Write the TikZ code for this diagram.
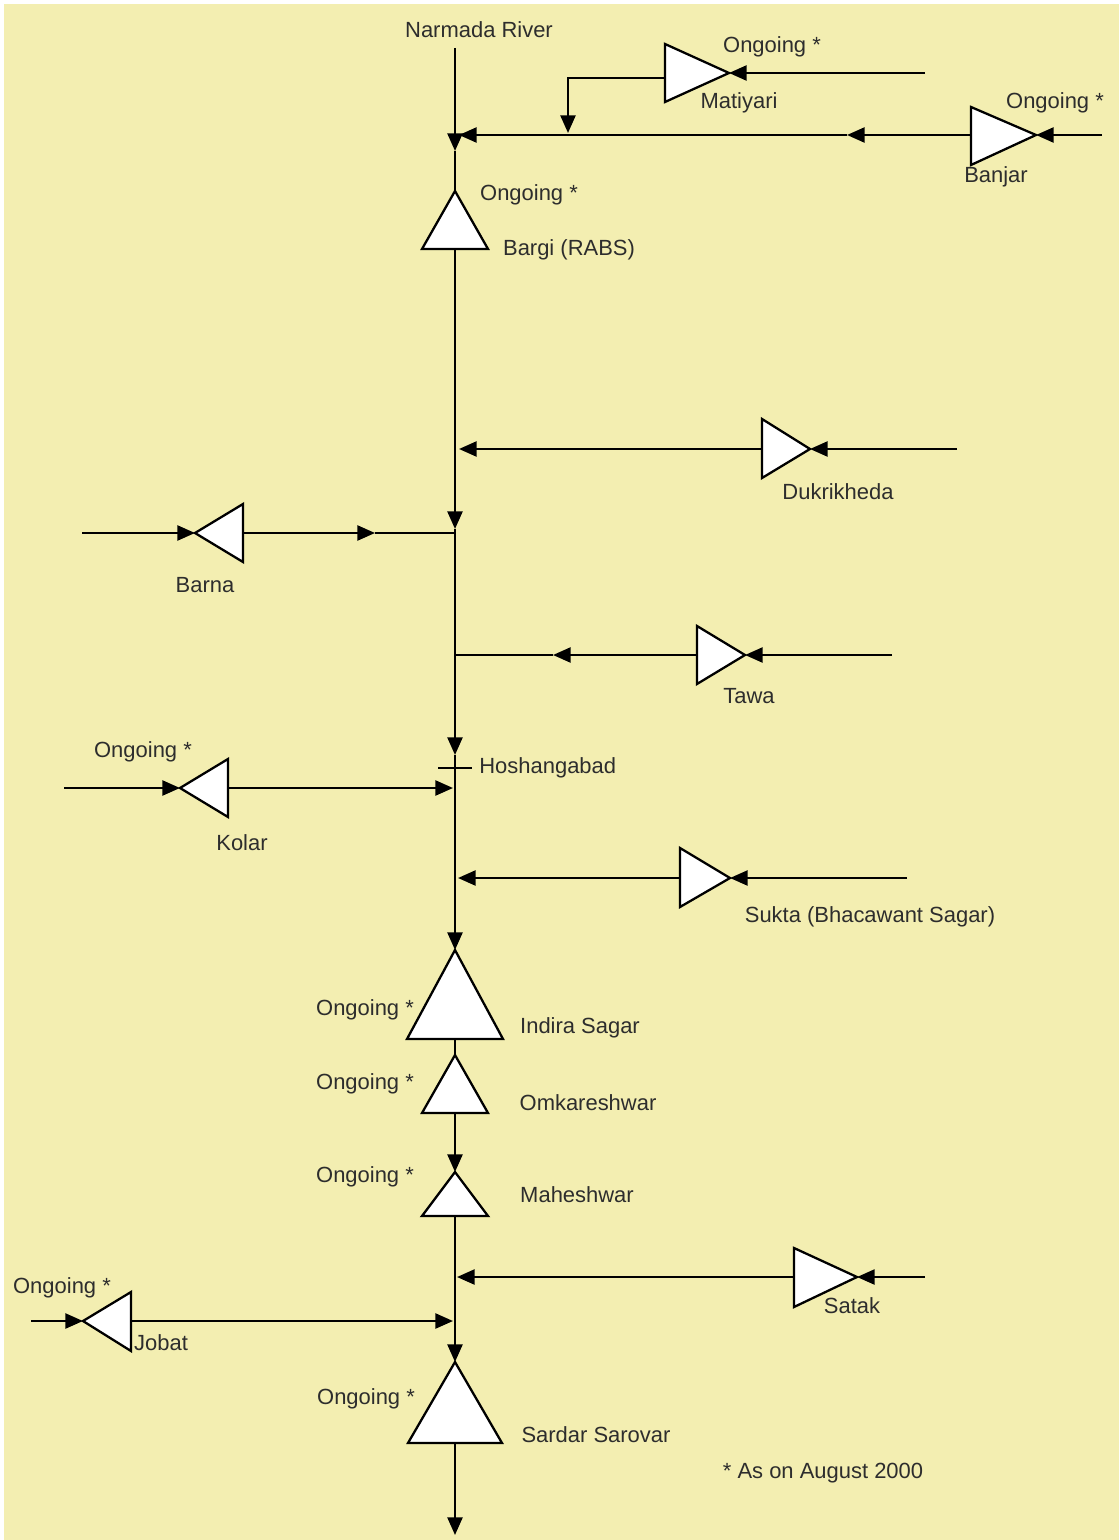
\documentclass[tikz,border=0pt]{standalone}
\usepackage{fontspec}
\setmainfont{Liberation Sans}
\usetikzlibrary{arrows.meta}
\definecolor{paper}{RGB}{243,238,177}
\definecolor{ink}{RGB}{45,45,45}
\tikzset{
  river/.style={draw=black,line width=1.35pt},
  flow/.style={river,-{Triangle[length=10pt,width=8.5pt]}},
  dam/.style={draw=black,line width=1.3pt,fill=white,line join=miter},
  lbl/.style={font=\fontsize{12.5}{15}\selectfont,text=ink,inner sep=0pt},
}
\begin{document}
\begin{tikzpicture}[x=0.02cm,y=-0.02cm]
  \useasboundingbox (0,0) rectangle (1119,1540);
  \fill[white] (0,0) rectangle (1119,1540);
  \fill[paper] (4,4) rectangle (1119,1540);

  % main course
  \coordinate (src) at (455,48);
  \coordinate (j1tip) at (455,151);
  \coordinate (bargi) at (455,191);
  \coordinate (bargib) at (455,249);
  \coordinate (barnatip) at (455,529);
  \coordinate (hoshtip) at (455,755);
  \coordinate (indira) at (455,950);
  \coordinate (indirab) at (455,1039);
  \coordinate (omk) at (455,1055);
  \coordinate (omkb) at (455,1113);
  \coordinate (mah) at (455,1172);
  \coordinate (mahb) at (455,1216);
  \coordinate (sardar) at (455,1362);
  \coordinate (sardarb) at (455,1443);
  \coordinate (mouth) at (455,1535);
  \draw[flow] (src) -- (j1tip);
  \draw[river] (j1tip) -- (bargi);
  \draw[flow] (bargib) -- (barnatip);
  \draw[flow] (barnatip) -- (hoshtip);
  \draw[flow] (hoshtip) -- (indira);
  \draw[river] (indirab) -- (omk);
  \draw[flow] (omkb) -- (mah);
  \draw[flow] (mahb) -- (sardar);
  \draw[flow] (sardarb) -- (mouth);

  % Hoshangabad gauge
  \coordinate (hoshL) at (438,768);
  \coordinate (hoshR) at (472,768);
  \draw[line width=1pt] (hoshL) -- (hoshR);

  % Matiyari
  \coordinate (matA) at (729,73);
  \coordinate (matIn) at (925,73);
  \coordinate (matOut) at (665,78);
  \coordinate (matBend) at (568,78);
  \coordinate (matTip) at (568,133);
  \draw[flow] (matIn) -- (matA);
  \draw[flow] (matOut) -- (matBend) -- (matTip);
  \draw[dam] (665,44) -- (matA) -- (665,102) -- cycle;

  % Banjar
  \coordinate (banA) at (1036,135);
  \coordinate (banIn) at (1102,135);
  \coordinate (banOut) at (971,135);
  \coordinate (banMid) at (847,135);
  \coordinate (j1) at (459,135);
  \draw[flow] (banIn) -- (banA);
  \draw[flow] (banOut) -- (banMid);
  \draw[flow] (banMid) -- (j1);
  \draw[dam] (971,107) -- (banA) -- (971,165) -- cycle;

  % Dukrikheda
  \coordinate (dukA) at (810,449);
  \coordinate (dukIn) at (957,449);
  \coordinate (dukOut) at (762,449);
  \coordinate (jDuk) at (459,449);
  \draw[flow] (dukIn) -- (dukA);
  \draw[flow] (dukOut) -- (jDuk);
  \draw[dam] (762,419) -- (dukA) -- (762,478) -- cycle;

  % Barna
  \coordinate (barIn) at (82,533);
  \coordinate (barA) at (195,533);
  \coordinate (barOut) at (243,533);
  \coordinate (barMid) at (375,533);
  \coordinate (jBar) at (455,533);
  \draw[flow] (barIn) -- (barA);
  \draw[flow] (barOut) -- (barMid);
  \draw[river] (barMid) -- (jBar);
  \draw[dam] (243,504) -- (barA) -- (243,562) -- cycle;

  % Tawa
  \coordinate (tawA) at (745,655);
  \coordinate (tawIn) at (892,655);
  \coordinate (tawOut) at (697,655);
  \coordinate (tawMid) at (553,655);
  \coordinate (jTaw) at (455,655);
  \draw[flow] (tawIn) -- (tawA);
  \draw[flow] (tawOut) -- (tawMid);
  \draw[river] (tawMid) -- (jTaw);
  \draw[dam] (697,626) -- (tawA) -- (697,684) -- cycle;

  % Kolar
  \coordinate (kolIn) at (64,788);
  \coordinate (kolA) at (180,788);
  \coordinate (kolOut) at (228,788);
  \coordinate (jKol) at (453,788);
  \draw[flow] (kolIn) -- (kolA);
  \draw[flow] (kolOut) -- (jKol);
  \draw[dam] (228,759) -- (kolA) -- (228,817) -- cycle;

  % Sukta
  \coordinate (sukA) at (730,878);
  \coordinate (sukIn) at (907,878);
  \coordinate (sukOut) at (680,878);
  \coordinate (jSuk) at (458,878);
  \draw[flow] (sukIn) -- (sukA);
  \draw[flow] (sukOut) -- (jSuk);
  \draw[dam] (680,848) -- (sukA) -- (680,907) -- cycle;

  % Satak
  \coordinate (satA) at (857,1277);
  \coordinate (satIn) at (925,1277);
  \coordinate (satOut) at (794,1277);
  \coordinate (jSat) at (457,1277);
  \draw[flow] (satIn) -- (satA);
  \draw[flow] (satOut) -- (jSat);
  \draw[dam] (794,1248) -- (satA) -- (794,1307) -- cycle;

  % Jobat
  \coordinate (jobIn) at (31,1321);
  \coordinate (jobA) at (83,1321);
  \coordinate (jobOut) at (131,1321);
  \coordinate (jJob) at (453,1321);
  \draw[flow] (jobIn) -- (jobA);
  \draw[flow] (jobOut) -- (jJob);
  \draw[dam] (131,1292) -- (jobA) -- (131,1351) -- cycle;

  % dams on the main course
  \draw[dam] (bargi) -- (488,249) -- (422,249) -- cycle;
  \draw[dam] (indira) -- (503,1039) -- (407,1039) -- cycle;
  \draw[dam] (omk) -- (488,1113) -- (422,1113) -- cycle;
  \draw[dam] (mah) -- (488,1216) -- (422,1216) -- cycle;
  \draw[dam] (sardar) -- (502,1443) -- (408,1443) -- cycle;

  % labels
  \node[lbl] (lNar) at (479,30) {Narmada River};
  \node[lbl] (lMatO) at (772,47) {Ongoing *};
  \node[lbl] (lMat) at (739,103) {Matiyari};
  \node[lbl] (lBanO) at (1055,103) {Ongoing *};
  \node[lbl] (lBan) at (996,177) {Banjar};
  \node[lbl] (lBarO) at (529,195) {Ongoing *};
  \node[lbl] (lBar) at (569,250) {Bargi (RABS)};
  \node[lbl] (lDuk) at (838,492) {Dukrikheda};
  \node[lbl] (lBarna) at (205,585) {Barna};
  \node[lbl] (lTaw) at (749,696) {Tawa};
  \node[lbl,anchor=west] (lHosh) at (479,768) {Hoshangabad};
  \node[lbl] (lKolO) at (143,752) {Ongoing *};
  \node[lbl] (lKol) at (242,843) {Kolar};
  \node[lbl] (lSuk) at (870,917) {Sukta (Bhacawant Sagar)};
  \node[lbl] (lIndO) at (365,1010) {Ongoing *};
  \node[lbl] (lInd) at (580,1028) {Indira Sagar};
  \node[lbl] (lOmkO) at (365,1084) {Ongoing *};
  \node[lbl] (lOmk) at (588,1103) {Omkareshwar};
  \node[lbl] (lMahO) at (365,1177) {Ongoing *};
  \node[lbl] (lMah) at (577,1195) {Maheshwar};
  \node[lbl] (lSat) at (852,1306) {Satak};
  \node[lbl] (lJobO) at (62,1288) {Ongoing *};
  \node[lbl] (lJob) at (161,1343) {Jobat};
  \node[lbl] (lSarO) at (366,1399) {Ongoing *};
  \node[lbl] (lSar) at (596,1435) {Sardar Sarovar};
  \node[lbl] (lNote) at (823,1473) {* As on August 2000};
\end{tikzpicture}
\end{document}
